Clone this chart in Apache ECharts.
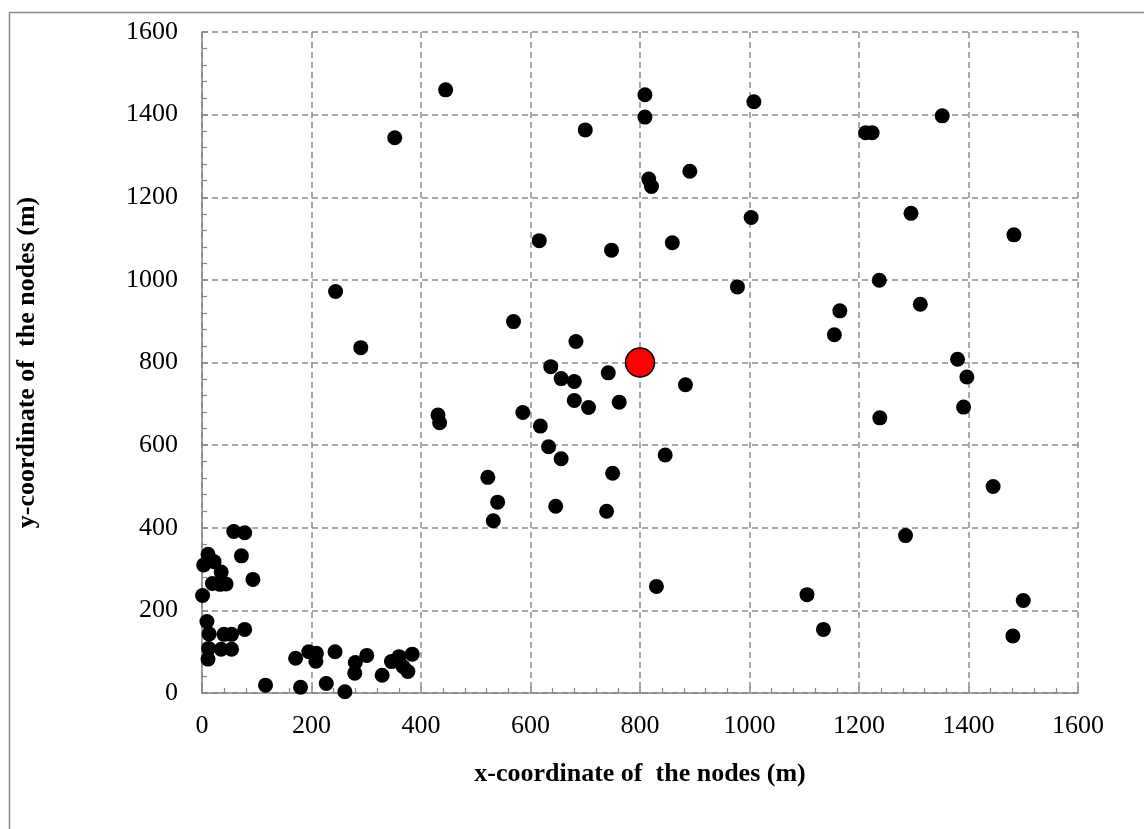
<!DOCTYPE html>
<html>
<head>
<meta charset="utf-8">
<script src="https://cdn.jsdelivr.net/npm/echarts@6/dist/echarts.min.js"></script>
<style>
html,body{margin:0;padding:0;background:#fff;}
#chart{width:1144px;height:829px;}
</style>
</head>
<body>
<div id="chart"></div>
<script>
// Node positions (m)
const nodeX = [58,78,11,22,3,72,35,19,33,44,93,1,9,13,40,54,78,12,11,35,54,116,171,180,195,209,208,243,227,261,280,279,301,329,346,360,367,376,384,
  244,290,352,445,431,434,809,809,700,891,816,821,616,748,859,569,683,637,742,656,680,883,680,706,762,586,618,633,656,846,750,522,540,532,646,739,830,
  1008,1352,1212,1224,1003,1295,1483,978,1237,1312,1165,1155,1380,1397,1391,1238,1445,1285,1105,1135,1500,1481];
const nodeY = [391,388,336,318,310,332,293,265,263,264,275,236,173,143,142,142,154,108,82,106,106,19,84,14,100,96,77,100,23,3,74,48,91,43,76,88,64,52,94,
  972,836,1344,1460,673,654,1448,1394,1363,1263,1244,1226,1095,1072,1090,899,851,790,775,761,754,746,708,691,704,679,646,596,567,576,532,522,462,417,452,440,258,
  1431,1397,1356,1356,1151,1161,1109,983,999,941,925,867,808,765,692,666,500,381,238,154,224,138];
// Sink / base station
const sinkX = [800];
const sinkY = [800];
// Axis ticks
const tickLabels = ['0','200','400','600','800','1000','1200','1400','1600'];
const axisMin = 0, axisMax = 1600, axisStep = 200, minorPerMajor = 5;

const nodes = nodeX.map((x, i) => [x, nodeY[i]]);
const sink = sinkX.map((x, i) => [x, sinkY[i]]);

const FONT = '"Liberation Serif", "Times New Roman", serif';
const axisColor = '#868686';

function mainAxis(name, gap, isY) {
  return {
    type: 'value', min: axisMin, max: axisMax, interval: axisStep,
    position: isY ? 'left' : 'bottom',
    name: name, nameLocation: 'middle', nameGap: gap,
    nameTextStyle: { fontFamily: FONT, fontWeight: 'bold', fontSize: 26, color: '#000' },
    axisLine: { show: true, onZero: false, lineStyle: { color: axisColor, width: 1.5 } },
    axisTick: { show: true, inside: true, length: 6, lineStyle: { color: axisColor, width: 1.5 } },
    minorTick: { show: true, splitNumber: minorPerMajor, length: 5, lineStyle: { color: axisColor, width: 1.2 } },
    minorSplitLine: { show: false },
    axisLabel: {
      fontFamily: FONT, fontSize: 26, color: '#000', margin: isY ? 24 : 20,
      formatter: v => tickLabels[Math.round((v - axisMin) / axisStep)] ?? ''
    },
    splitLine: { show: true, lineStyle: { color: '#8c8c8c', width: 1.5, type: [6, 4] } }
  };
}

const chart = echarts.init(document.getElementById('chart'), null, { renderer: 'canvas' });
chart.setOption({
  animation: false,
  backgroundColor: '#fff',
  graphic: [{
    type: 'rect', left: 7, top: 10, z: -10,
    shape: { width: 1200, height: 900 },
    style: { fill: 'none', stroke: '#8a8a8a', lineWidth: 1.5 }
  }],
  grid: { left: 202, right: 66, top: 32, bottom: 136 },
  xAxis: mainAxis('x-coordinate of  the nodes (m)', 68, false),
  yAxis: mainAxis('y-coordinate of  the nodes (m)', 162, true),
  series: [
    {
      type: 'scatter',
      data: nodes, symbol: 'circle', symbolSize: 15,
      itemStyle: { color: '#000', opacity: 1 }
    },
    {
      type: 'scatter',
      data: sink, symbol: 'circle', symbolSize: 29,
      itemStyle: { color: '#ff0000', borderColor: '#000', borderWidth: 1.5, opacity: 1 }, z: 5
    }
  ]
});
</script>
</body>
</html>
